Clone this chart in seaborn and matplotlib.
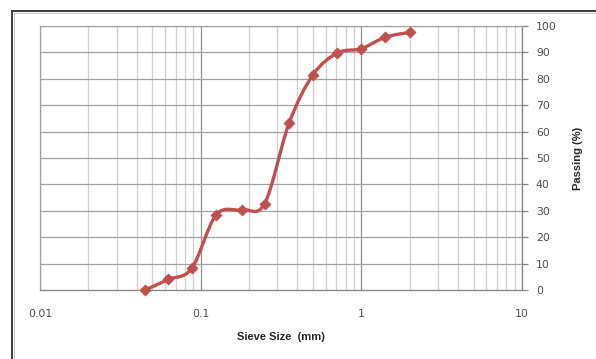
import numpy as np
import matplotlib
matplotlib.use("Agg")
import matplotlib.pyplot as plt
from matplotlib.path import Path
from matplotlib.patches import PathPatch
from matplotlib.lines import Line2D
from matplotlib.ticker import LogLocator, FixedLocator, FixedFormatter, NullFormatter
import seaborn as sns

# sieve analysis data
sieve_mm = [0.045, 0.063, 0.088, 0.125, 0.18, 0.25, 0.355, 0.5, 0.71, 1.0, 1.4, 2.0]
passing = [0.0, 4.0, 8.2, 28.5, 30.4, 32.7, 63.2, 81.5, 89.8, 91.4, 95.7, 97.6]
x_ticks = [0.01, 0.1, 1, 10]
x_tick_labels = ["0.01", "0.1", "1", "10"]
y_ticks = list(range(0, 101, 10))

sns.set_style("white")
plt.rcParams['font.family'] = ['DejaVu Sans']

red = "#C0504D"
fig = plt.figure(figsize=(5.96, 3.59), dpi=100)
ax = fig.add_axes([40 / 596, 69 / 359, 482 / 596, 264 / 359])

ax.set_xscale("log")
ax.set_xlim(0.01, 10)
ax.set_ylim(0, 100)

# gridlines
ax.xaxis.set_minor_locator(LogLocator(base=10, subs=np.arange(2, 10)))
ax.xaxis.set_minor_formatter(NullFormatter())
ax.grid(True, which="minor", axis="x", color="#cfcfcf", lw=0.9)
ax.grid(True, which="major", axis="x", color="#8f8f8f", lw=0.9)
ax.grid(True, which="major", axis="y", color="#a3a3a3", lw=0.9)
ax.set_axisbelow(True)

# smoothed line (Excel-style bezier through the points, built in log-x space)
lx = np.log10(sieve_mm)
py = np.array(passing)
n = len(lx)
verts = [(sieve_mm[0], passing[0])]
codes = [Path.MOVETO]
for i in range(n - 1):
    p0 = max(i - 1, 0)
    p3 = min(i + 2, n - 1)
    c1x = lx[i] + (lx[i + 1] - lx[p0]) / 6
    c1y = py[i] + (py[i + 1] - py[p0]) / 6
    c2x = lx[i + 1] - (lx[p3] - lx[i]) / 6
    c2y = py[i + 1] - (py[p3] - py[i]) / 6
    verts += [(10 ** c1x, c1y), (10 ** c2x, c2y), (sieve_mm[i + 1], passing[i + 1])]
    codes += [Path.CURVE4] * 3
ax.add_patch(PathPatch(Path(verts, codes), facecolor="none", edgecolor=red, lw=2.4, zorder=3))

sns.scatterplot(x=sieve_mm, y=passing, ax=ax, marker="D", s=32, color=red,
                edgecolor=red, linewidth=0.5, zorder=4, clip_on=False)

# axes styling
ax.xaxis.set_major_locator(FixedLocator(x_ticks))
ax.xaxis.set_major_formatter(FixedFormatter(x_tick_labels))
ax.yaxis.tick_right()
ax.yaxis.set_label_position("right")
ax.set_yticks(y_ticks)
ax.tick_params(axis="x", which="major", direction="inout", length=6, width=0.9,
               color="#868686", labelsize=7.8, labelcolor="#4d4d4d", pad=11)
ax.tick_params(axis="x", which="minor", length=0)
ax.tick_params(axis="y", which="major", direction="out", length=4, width=0.9,
               color="#868686", labelsize=7.8, labelcolor="#4d4d4d", pad=6,
               left=False, right=True)
for side in ["left", "top"]:
    ax.spines[side].set_color("#a3a3a3")
    ax.spines[side].set_linewidth(0.9)
for side in ["bottom", "right"]:
    ax.spines[side].set_color("#868686")
    ax.spines[side].set_linewidth(0.9)

ax.set_xlabel("Sieve Size  (mm)", fontsize=8, fontweight="bold", color="#262626",
              labelpad=9, family="Liberation Sans")
ax.set_ylabel("Passing (%)", fontsize=8, fontweight="bold", color="#262626",
              labelpad=12, family="Liberation Sans")
ax.yaxis.label.set_rotation(90)

# outer frame of the chart area
W, H = 596, 359
fig.add_artist(Line2D([11.5 / W, 11.5 / W], [0, 1 - 10.5 / H], transform=fig.transFigure,
                      color="#3a3a3a", lw=1.4))
fig.add_artist(Line2D([11.5 / W, 1], [1 - 10.5 / H, 1 - 10.5 / H], transform=fig.transFigure,
                      color="#3a3a3a", lw=1.4))
fig.add_artist(Line2D([13.5 / W, 13.5 / W], [0, 1 - 12.5 / H], transform=fig.transFigure,
                      color="#c8c8c8", lw=0.8))
fig.add_artist(Line2D([13.5 / W, 1], [1 - 12.5 / H, 1 - 12.5 / H], transform=fig.transFigure,
                      color="#c8c8c8", lw=0.8))

fig.savefig("out.png", dpi=100)
